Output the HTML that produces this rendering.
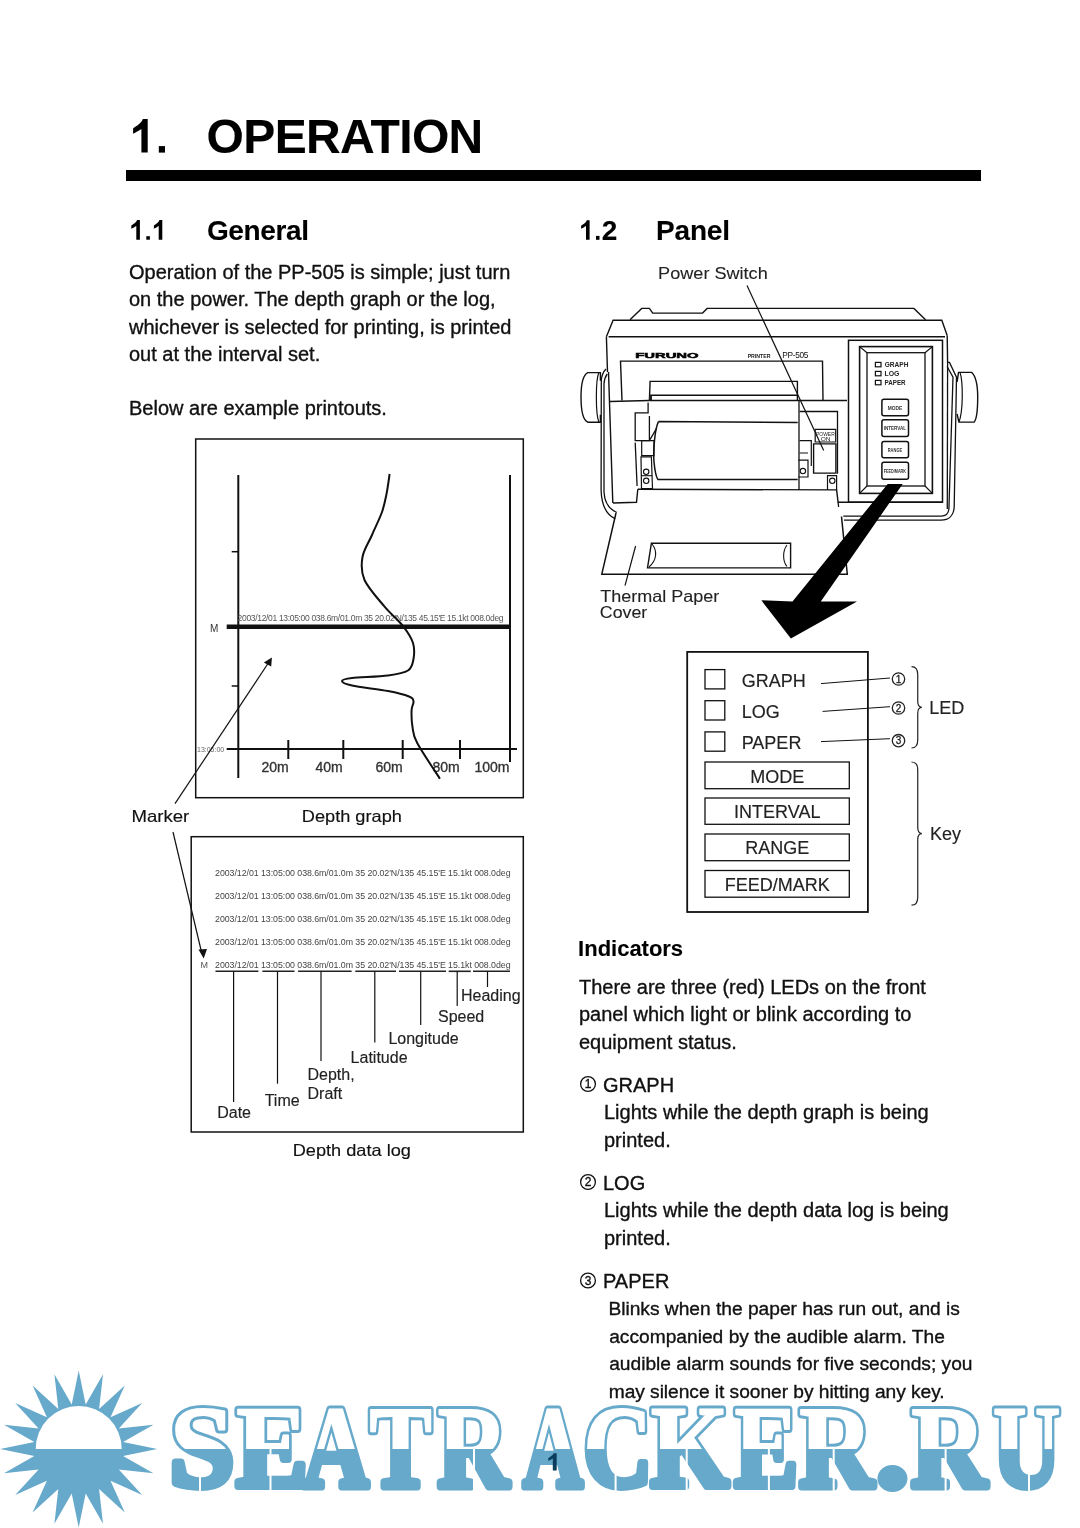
<!DOCTYPE html>
<html><head><meta charset="utf-8"><style>
html,body{margin:0;padding:0;background:#fff;width:1080px;height:1528px;overflow:hidden;}
svg{font-family:"Liberation Sans",sans-serif;}
</style></head><body>
<svg width="1080" height="1528" viewBox="0 0 1080 1528" style="position:absolute;left:0;top:0;will-change:transform"><path d="M142.79,119.00 L147.70,119.00 L147.70,152.60 L141.40,152.60 L141.40,129.08 C138.50,131.10 134.76,133.11 133.10,133.78 L133.10,128.41 C136.84,125.72 142.16,122.36 142.79,119.00 Z" fill="#000"/>
<rect x="158.8" y="146.1" width="6.2" height="6.5" fill="#000"/>
<text x="206.58" y="153.3" font-size="48" font-weight="bold" text-anchor="start" fill="#000" stroke="#000" stroke-width="0.1" textLength="276.7" lengthAdjust="spacing" >OPERATION</text>
<rect x="126" y="170" width="855" height="11" fill="#000"/>
<path d="M137.09,220.10 L139.90,220.10 L139.90,239.70 L136.30,239.70 L136.30,225.98 C134.55,227.16 132.30,228.33 131.30,228.72 L131.30,225.59 C133.55,224.02 136.73,222.06 137.09,220.10 Z" fill="#000"/>
<rect x="146.3" y="236.2" width="3.6" height="3.5" fill="#000"/>
<path d="M159.49,220.10 L162.30,220.10 L162.30,239.70 L158.70,239.70 L158.70,225.98 C157.02,227.16 154.86,228.33 153.90,228.72 L153.90,225.59 C156.06,224.02 159.13,222.06 159.49,220.10 Z" fill="#000"/>
<text x="206.88" y="240" font-size="28" font-weight="bold" text-anchor="start" fill="#000" stroke="#000" stroke-width="0.1" textLength="102.06" lengthAdjust="spacing" >General</text>
<path d="M586.79,220.20 L589.60,220.20 L589.60,239.80 L586.00,239.80 L586.00,226.08 C584.28,227.26 582.08,228.43 581.10,228.82 L581.10,225.69 C583.31,224.12 586.43,222.16 586.79,220.20 Z" fill="#000"/>
<rect x="596" y="235.9" width="3.5" height="3.9" fill="#000"/>
<text x="601.82" y="240" font-size="28" font-weight="bold" text-anchor="start" fill="#000" stroke="#000" stroke-width="0.1" textLength="15.06" lengthAdjust="spacing" >2</text>
<text x="656.11" y="240" font-size="28" font-weight="bold" text-anchor="start" fill="#000" stroke="#000" stroke-width="0.1" textLength="73.87" lengthAdjust="spacing" >Panel</text>
<text x="129" y="279.1" font-size="20" font-weight="normal" text-anchor="start" fill="#111" stroke="#111" stroke-width="0.35" >Operation of the PP-505 is simple; just turn</text>
<text x="129" y="306.4" font-size="20" font-weight="normal" text-anchor="start" fill="#111" stroke="#111" stroke-width="0.35" >on the power. The depth graph or the log,</text>
<text x="129" y="333.7" font-size="20" font-weight="normal" text-anchor="start" fill="#111" stroke="#111" stroke-width="0.35" >whichever is selected for printing, is printed</text>
<text x="129" y="361.0" font-size="20" font-weight="normal" text-anchor="start" fill="#111" stroke="#111" stroke-width="0.35" >out at the interval set.</text>
<text x="129" y="415.3" font-size="20" font-weight="normal" text-anchor="start" fill="#111" stroke="#111" stroke-width="0.35" >Below are example printouts.</text>
<text x="578.12" y="955.9" font-size="22" font-weight="bold" text-anchor="start" fill="#000" stroke="#000" stroke-width="0.1" textLength="105.0" lengthAdjust="spacing" >Indicators</text>
<text x="579" y="994.0" font-size="20" font-weight="normal" text-anchor="start" fill="#111" stroke="#111" stroke-width="0.35" >There are three (red) LEDs on the front</text>
<text x="579" y="1021.4" font-size="20" font-weight="normal" text-anchor="start" fill="#111" stroke="#111" stroke-width="0.35" >panel which light or blink according to</text>
<text x="579" y="1048.8" font-size="20" font-weight="normal" text-anchor="start" fill="#111" stroke="#111" stroke-width="0.35" >equipment status.</text>
<circle cx="588" cy="1084" r="7.4" fill="none" stroke="#111" stroke-width="1.3"/>
<text x="588" y="1088.32" font-size="12" font-weight="normal" text-anchor="middle" fill="#111" stroke="#111" stroke-width="0.35" stroke-width="0.3" stroke="#111">1</text>
<text x="603" y="1091.7" font-size="20" font-weight="normal" text-anchor="start" fill="#111" stroke="#111" stroke-width="0.35" >GRAPH</text>
<text x="604" y="1119.1" font-size="20" font-weight="normal" text-anchor="start" fill="#111" stroke="#111" stroke-width="0.35" >Lights while the depth graph is being</text>
<text x="604" y="1146.7" font-size="20" font-weight="normal" text-anchor="start" fill="#111" stroke="#111" stroke-width="0.35" >printed.</text>
<circle cx="588" cy="1182" r="7.4" fill="none" stroke="#111" stroke-width="1.3"/>
<text x="588" y="1186.32" font-size="12" font-weight="normal" text-anchor="middle" fill="#111" stroke="#111" stroke-width="0.35" stroke-width="0.3" stroke="#111">2</text>
<text x="603" y="1189.6" font-size="20" font-weight="normal" text-anchor="start" fill="#111" stroke="#111" stroke-width="0.35" >LOG</text>
<text x="604" y="1216.9" font-size="20" font-weight="normal" text-anchor="start" fill="#111" stroke="#111" stroke-width="0.35" >Lights while the depth data log is being</text>
<text x="604" y="1244.6" font-size="20" font-weight="normal" text-anchor="start" fill="#111" stroke="#111" stroke-width="0.35" >printed.</text>
<circle cx="588" cy="1280.5" r="7.4" fill="none" stroke="#111" stroke-width="1.3"/>
<text x="588" y="1284.82" font-size="12" font-weight="normal" text-anchor="middle" fill="#111" stroke="#111" stroke-width="0.35" stroke-width="0.3" stroke="#111">3</text>
<text x="603" y="1288.3" font-size="20" font-weight="normal" text-anchor="start" fill="#111" stroke="#111" stroke-width="0.35" >PAPER</text>
<text x="608.42" y="1315.3" font-size="19.2" font-weight="normal" text-anchor="start" fill="#111" stroke="#111" stroke-width="0.35" textLength="351.46" lengthAdjust="spacing" >Blinks when the paper has run out, and is</text>
<text x="609.18" y="1343.2" font-size="19.2" font-weight="normal" text-anchor="start" fill="#111" stroke="#111" stroke-width="0.35" textLength="335.64" lengthAdjust="spacing" >accompanied by the audible alarm. The</text>
<text x="609.18" y="1369.9" font-size="19.2" font-weight="normal" text-anchor="start" fill="#111" stroke="#111" stroke-width="0.35" textLength="363.28" lengthAdjust="spacing" >audible alarm sounds for five seconds; you</text>
<text x="608.7" y="1397.5" font-size="19.2" font-weight="normal" text-anchor="start" fill="#111" stroke="#111" stroke-width="0.35" textLength="336.01" lengthAdjust="spacing" >may silence it sooner by hitting any key.</text>
<rect x="195.7" y="439" width="327.6" height="358.7" fill="none" stroke="#111" stroke-width="1.5" rx="0"/>
<line x1="238.3" y1="475" x2="238.3" y2="778" stroke="#111" stroke-width="2"/>
<line x1="510" y1="475" x2="510" y2="762" stroke="#111" stroke-width="2"/>
<line x1="231.7" y1="551.7" x2="238.3" y2="551.7" stroke="#111" stroke-width="1.5"/>
<line x1="231.7" y1="686" x2="238.3" y2="686" stroke="#111" stroke-width="1.5"/>
<line x1="226.7" y1="626.7" x2="510" y2="626.7" stroke="#111" stroke-width="4.5"/>
<text x="210" y="632" font-size="10" font-weight="normal" text-anchor="start" fill="#333" >M</text>
<text x="237.58" y="620.5" font-size="8.5" font-weight="normal" text-anchor="start" fill="#555" textLength="265.96" lengthAdjust="spacing" >2003/12/01 13:05:00 038.6m/01.0m 35 20.02'N/135 45.15'E 15.1kt 008.0deg</text>
<line x1="226.7" y1="749" x2="517" y2="749" stroke="#111" stroke-width="2"/>
<line x1="288.3" y1="740" x2="288.3" y2="759" stroke="#111" stroke-width="2"/>
<line x1="343.3" y1="740" x2="343.3" y2="759" stroke="#111" stroke-width="2"/>
<line x1="402.7" y1="740" x2="402.7" y2="759" stroke="#111" stroke-width="2"/>
<line x1="460" y1="740" x2="460" y2="759" stroke="#111" stroke-width="2"/>
<text x="275" y="772" font-size="14" font-weight="normal" text-anchor="middle" fill="#333" stroke="#333" stroke-width="0.35" >20m</text>
<text x="329" y="772" font-size="14" font-weight="normal" text-anchor="middle" fill="#333" stroke="#333" stroke-width="0.35" >40m</text>
<text x="389" y="772" font-size="14" font-weight="normal" text-anchor="middle" fill="#333" stroke="#333" stroke-width="0.35" >60m</text>
<text x="446" y="772" font-size="14" font-weight="normal" text-anchor="middle" fill="#333" stroke="#333" stroke-width="0.35" >80m</text>
<text x="492" y="772" font-size="14" font-weight="normal" text-anchor="middle" fill="#333" stroke="#333" stroke-width="0.35" >100m</text>
<text x="197" y="752" font-size="7" font-weight="normal" text-anchor="start" fill="#666" >13:05:00</text>
<path d="M389.6,474 C389.1,477.3 387.8,487.7 386.5,494 C385.2,500.3 384.4,505.2 382,512 C379.6,518.8 375.2,527.5 372,535 C368.8,542.5 363.8,549.5 362.5,557 C361.2,564.5 360.8,571.7 364.5,580 C368.2,588.3 378.4,599.2 384.8,606.9 C391.2,614.6 398.5,620.3 403.2,626.3 C407.9,632.3 411.3,637.5 413,643 C414.7,648.5 414.3,654.4 413.5,659 C412.7,663.6 412.2,667.8 408,670.5 C403.8,673.2 397.3,674.2 388,675.5 C378.7,676.8 359.7,677.1 352,678 C344.3,678.9 342.0,679.8 342,681 C342.0,682.2 344.3,683.8 352,685.5 C359.7,687.2 378.5,689.2 388,691 C397.5,692.8 404.8,694.8 409,696.5 C413.2,698.2 413.1,699.2 413.5,701.5 C413.9,703.8 411.8,705.8 411.6,710 C411.4,714.2 411.6,721.5 412.5,727 C413.4,732.5 412.6,734.4 417.2,743 C421.8,751.6 436.1,772.8 439.9,778.7" fill="none" stroke="#111" stroke-width="2" />
<line x1="175" y1="803.7" x2="268" y2="663.5" stroke="#111" stroke-width="1.2"/>
<polygon points="271.9,657.6 263.8,662.6 271.2,666.4" fill="#111"/>
<text x="301.8" y="821.7" font-size="16.5" font-weight="normal" text-anchor="start" fill="#111" stroke="#111" stroke-width="0.15" textLength="100.07" lengthAdjust="spacingAndGlyphs" >Depth graph</text>
<text x="131.47" y="821.7" font-size="16.5" font-weight="normal" text-anchor="start" fill="#111" stroke="#111" stroke-width="0.15" textLength="57.84" lengthAdjust="spacingAndGlyphs" >Marker</text>
<rect x="191.2" y="836.7" width="332.1" height="295.3" fill="none" stroke="#111" stroke-width="1.5" rx="0"/>
<text x="215.06" y="875.7" font-size="8.8" font-weight="normal" text-anchor="start" fill="#444" textLength="295.5" lengthAdjust="spacing" >2003/12/01 13:05:00 038.6m/01.0m 35 20.02'N/135 45.15'E 15.1kt 008.0deg</text>
<text x="215.06" y="899.4" font-size="8.8" font-weight="normal" text-anchor="start" fill="#444" textLength="295.5" lengthAdjust="spacing" >2003/12/01 13:05:00 038.6m/01.0m 35 20.02'N/135 45.15'E 15.1kt 008.0deg</text>
<text x="215.06" y="922.2" font-size="8.8" font-weight="normal" text-anchor="start" fill="#444" textLength="295.5" lengthAdjust="spacing" >2003/12/01 13:05:00 038.6m/01.0m 35 20.02'N/135 45.15'E 15.1kt 008.0deg</text>
<text x="215.06" y="945" font-size="8.8" font-weight="normal" text-anchor="start" fill="#444" textLength="295.5" lengthAdjust="spacing" >2003/12/01 13:05:00 038.6m/01.0m 35 20.02'N/135 45.15'E 15.1kt 008.0deg</text>
<text x="215.06" y="968.3" font-size="8.8" font-weight="normal" text-anchor="start" fill="#444" textLength="295.5" lengthAdjust="spacing" >2003/12/01 13:05:00 038.6m/01.0m 35 20.02'N/135 45.15'E 15.1kt 008.0deg</text>
<text x="200.5" y="968" font-size="9" font-weight="normal" text-anchor="start" fill="#555" >M</text>
<line x1="215.5" y1="971.3" x2="258.4" y2="971.3" stroke="#222" stroke-width="1.6"/>
<line x1="262.4" y1="971.3" x2="294.5" y2="971.3" stroke="#222" stroke-width="1.6"/>
<line x1="298.1" y1="971.3" x2="351.6" y2="971.3" stroke="#222" stroke-width="1.6"/>
<line x1="355.3" y1="971.3" x2="396" y2="971.3" stroke="#222" stroke-width="1.6"/>
<line x1="399" y1="971.3" x2="446" y2="971.3" stroke="#222" stroke-width="1.6"/>
<line x1="448.7" y1="971.3" x2="470.8" y2="971.3" stroke="#222" stroke-width="1.6"/>
<line x1="473" y1="971.3" x2="510" y2="971.3" stroke="#222" stroke-width="1.6"/>
<line x1="233.6" y1="971.3" x2="233.6" y2="1102" stroke="#111" stroke-width="1.2"/>
<line x1="277.5" y1="971.3" x2="277.5" y2="1083.7" stroke="#111" stroke-width="1.2"/>
<line x1="321" y1="971.3" x2="321" y2="1061" stroke="#111" stroke-width="1.2"/>
<line x1="374.8" y1="971.3" x2="374.8" y2="1042.5" stroke="#111" stroke-width="1.2"/>
<line x1="420.7" y1="971.3" x2="420.7" y2="1025" stroke="#111" stroke-width="1.2"/>
<line x1="457.2" y1="971.3" x2="457.2" y2="1006" stroke="#111" stroke-width="1.2"/>
<line x1="487.5" y1="971.3" x2="487.5" y2="987" stroke="#111" stroke-width="1.2"/>
<text x="217.2" y="1117.5" font-size="16" font-weight="normal" text-anchor="start" fill="#222" stroke="#222" stroke-width="0.15" >Date</text>
<text x="264.7" y="1105.9" font-size="16" font-weight="normal" text-anchor="start" fill="#222" stroke="#222" stroke-width="0.15" >Time</text>
<text x="307.5" y="1079.8" font-size="16" font-weight="normal" text-anchor="start" fill="#222" stroke="#222" stroke-width="0.15" >Depth,</text>
<text x="307.5" y="1099.3" font-size="16" font-weight="normal" text-anchor="start" fill="#222" stroke="#222" stroke-width="0.15" >Draft</text>
<text x="350.6" y="1063" font-size="16" font-weight="normal" text-anchor="start" fill="#222" stroke="#222" stroke-width="0.15" >Latitude</text>
<text x="388.4" y="1043.6" font-size="16" font-weight="normal" text-anchor="start" fill="#222" stroke="#222" stroke-width="0.15" >Longitude</text>
<text x="438" y="1022" font-size="16" font-weight="normal" text-anchor="start" fill="#222" stroke="#222" stroke-width="0.15" >Speed</text>
<text x="461" y="1000.9" font-size="16" font-weight="normal" text-anchor="start" fill="#222" stroke="#222" stroke-width="0.15" >Heading</text>
<line x1="173" y1="832" x2="201.5" y2="952" stroke="#111" stroke-width="1.2"/>
<polygon points="203.7,958.4 198.5,949.5 207,949" fill="#111"/>
<text x="292.7" y="1156.4" font-size="16.5" font-weight="normal" text-anchor="start" fill="#111" stroke="#111" stroke-width="0.15" textLength="118.24" lengthAdjust="spacingAndGlyphs" >Depth data log</text>
<rect x="687.2" y="651.9" width="180.7" height="260.1" fill="none" stroke="#111" stroke-width="1.8" rx="0"/>
<rect x="705" y="669.6" width="19.8" height="19.3" fill="none" stroke="#111" stroke-width="1.3" rx="0"/>
<rect x="705" y="700.7" width="19.8" height="19.3" fill="none" stroke="#111" stroke-width="1.3" rx="0"/>
<rect x="705" y="731.9" width="19.8" height="19.3" fill="none" stroke="#111" stroke-width="1.3" rx="0"/>
<text x="741.7" y="686.8" font-size="18" font-weight="normal" text-anchor="start" fill="#222" stroke="#222" stroke-width="0.15" >GRAPH</text>
<text x="741.7" y="717.6" font-size="18" font-weight="normal" text-anchor="start" fill="#222" stroke="#222" stroke-width="0.15" >LOG</text>
<text x="741.7" y="748.7" font-size="18" font-weight="normal" text-anchor="start" fill="#222" stroke="#222" stroke-width="0.15" >PAPER</text>
<line x1="821" y1="683.6" x2="890" y2="678" stroke="#111" stroke-width="1"/>
<line x1="822.6" y1="711.4" x2="890" y2="706.7" stroke="#111" stroke-width="1"/>
<line x1="821" y1="741.6" x2="890" y2="738.7" stroke="#111" stroke-width="1"/>
<circle cx="898.5" cy="679" r="6.2" fill="none" stroke="#222" stroke-width="1.3"/>
<text x="898.5" y="682.6" font-size="10" font-weight="normal" text-anchor="middle" fill="#222" stroke-width="0.3" stroke="#222">1</text>
<circle cx="898.5" cy="708" r="6.2" fill="none" stroke="#222" stroke-width="1.3"/>
<text x="898.5" y="711.6" font-size="10" font-weight="normal" text-anchor="middle" fill="#222" stroke-width="0.3" stroke="#222">2</text>
<circle cx="898.5" cy="740.7" r="6.2" fill="none" stroke="#222" stroke-width="1.3"/>
<text x="898.5" y="744.3000000000001" font-size="10" font-weight="normal" text-anchor="middle" fill="#222" stroke-width="0.3" stroke="#222">3</text>
<path d="M911.5,666.7 Q917.74,666.7 917.74,674.7 L917.74,701.35 Q917.74,707.35 921.9,707.35 Q917.74,707.35 917.74,713.35 L917.74,740 Q917.74,748 911.5,748" fill="none" stroke="#222" stroke-width="1.2" />
<text x="929.3" y="714" font-size="18" font-weight="normal" text-anchor="start" fill="#222" stroke="#222" stroke-width="0.15" >LED</text>
<rect x="705" y="762" width="144.3" height="26.700000000000045" fill="none" stroke="#111" stroke-width="1.3" rx="0"/>
<text x="777.3" y="783" font-size="18" font-weight="normal" text-anchor="middle" fill="#222" stroke="#222" stroke-width="0.15" >MODE</text>
<rect x="705" y="798" width="144.3" height="26.299999999999955" fill="none" stroke="#111" stroke-width="1.3" rx="0"/>
<text x="777.3" y="817.8" font-size="18" font-weight="normal" text-anchor="middle" fill="#222" stroke="#222" stroke-width="0.15" >INTERVAL</text>
<rect x="705" y="834" width="144.3" height="26.700000000000045" fill="none" stroke="#111" stroke-width="1.3" rx="0"/>
<text x="777.3" y="854" font-size="18" font-weight="normal" text-anchor="middle" fill="#222" stroke="#222" stroke-width="0.15" >RANGE</text>
<rect x="705" y="870.5" width="144.3" height="26.700000000000045" fill="none" stroke="#111" stroke-width="1.3" rx="0"/>
<text x="777.3" y="891.3" font-size="18" font-weight="normal" text-anchor="middle" fill="#222" stroke="#222" stroke-width="0.15" >FEED/MARK</text>
<path d="M911.5,762 Q917.74,762 917.74,770 L917.74,827.6 Q917.74,833.6 921.9,833.6 Q917.74,833.6 917.74,839.6 L917.74,897.2 Q917.74,905.2 911.5,905.2" fill="none" stroke="#222" stroke-width="1.2" />
<text x="930" y="840" font-size="18" font-weight="normal" text-anchor="start" fill="#222" stroke="#222" stroke-width="0.15" >Key</text>
<path d="M630,319.8 L641.7,308.4 L649.4,308.4 L652.7,313.1 L702.6,313.1 L707.1,308.4 L913.9,308.4 L925.6,319.8" fill="none" stroke="#111" stroke-width="1.4" />
<path d="M606.4,336.7 L613.1,320.3 L941.8,320.3 L947.2,335.5" fill="none" stroke="#111" stroke-width="1.4" />
<line x1="608.6" y1="336.7" x2="945" y2="336.7" stroke="#111" stroke-width="1.4"/>
<path d="M606.4,336.7 L607.5,372 M608.5,372 L612.8,503" fill="none" stroke="#111" stroke-width="1.4" />
<path d="M947.2,335.5 L947.6,362" fill="none" stroke="#111" stroke-width="1.4" />
<path d="M606,369 C603,372 601.5,376 601.3,381 L601.1,490 C601.5,506 607,515 615.2,518.8" fill="none" stroke="#111" stroke-width="1.3" />
<path d="M607.2,374 C605,377 604.2,380 604,384 L604,492 C604.5,503 609,509 616.8,512.5" fill="none" stroke="#111" stroke-width="1.3" />
<path d="M600.4,380.7 L600.4,372.6 L587.8,372.6 C583,375 581,386 581,397 C581,410 583,420 587.8,422.2 L600.4,422.2 L600.4,414.8" fill="none" stroke="#111" stroke-width="1.4" />
<path d="M598.9,372.6 C595.5,380 595.5,414 598.9,422.2" fill="none" stroke="#111" stroke-width="1.2" />
<path d="M947.1,362.4 L949.5,362.4 L956.5,377.1 L954.2,506.7 C953.8,515 949,520.2 941,520.2 L844,520.2" fill="none" stroke="#111" stroke-width="1.3" />
<path d="M947.1,366.5 L953,377.1 L948.9,509 C948.5,513.5 946,516.1 941,516.1 L843.3,516.1" fill="none" stroke="#111" stroke-width="1.3" />
<path d="M957.1,381.8 L958.5,372.4 L971.8,372.4 C975.5,376 977.7,386 977.7,397.1 C977.7,410 976,420 974.2,422.1 L958.9,422.1 L957.1,414" fill="none" stroke="#111" stroke-width="1.4" />
<path d="M960,372.4 C963.2,382 963.2,412 958.9,422.1" fill="none" stroke="#111" stroke-width="1.2" />
<path d="M947.6,362 L947.3,509" fill="none" stroke="#111" stroke-width="1.3" />
<text x="635.2" y="357.9" font-size="7.6" font-weight="bold" text-anchor="start" fill="#000" textLength="63.43" lengthAdjust="spacingAndGlyphs" stroke="#000" stroke-width="0.5">FURUNO</text>
<text x="747.65" y="357.8" font-size="5.2" font-weight="bold" text-anchor="start" fill="#222" textLength="22.86" lengthAdjust="spacingAndGlyphs" >PRINTER</text>
<text x="782.32" y="357.8" font-size="8.3" font-weight="normal" text-anchor="start" fill="#111" textLength="26.02" lengthAdjust="spacing" >PP-505</text>
<path d="M622,400.5 L620.5,361.1 L822.5,361.1 L823,400.5" fill="none" stroke="#111" stroke-width="1.4" />
<path d="M649.4,400.5 L650.1,381.4 L797.4,381.4 L797.4,400.5" fill="none" stroke="#111" stroke-width="1.4" />
<line x1="649.4" y1="395.3" x2="797.4" y2="395.3" stroke="#111" stroke-width="1.4"/>
<rect x="649.4" y="395.3" width="2.6" height="5.2" fill="#222"/>
<line x1="610" y1="401.5" x2="649.4" y2="400.5" stroke="#111" stroke-width="1.4"/>
<line x1="649.4" y1="400.5" x2="847" y2="400.5" stroke="#111" stroke-width="1.4"/>
<path d="M648.1,402.4 L648.1,412.8 L635.2,412.8 L635.2,440.6 L649.4,440.6 L656.6,428.3 M649.4,416 L649.4,440.6" fill="none" stroke="#111" stroke-width="1.3" />
<path d="M635.2,442.6 L637.1,486" fill="none" stroke="#111" stroke-width="1.3" />
<path d="M658.5,421.6 L797.7,422.5 M658.5,421.6 C655,428 653,450 654,462 C655,472 656,477 657.9,479.5 L797.7,479.5" fill="none" stroke="#111" stroke-width="1.5" />
<path d="M641.7,440.6 L654,440.6 L654,455.6 L641.7,455.6 Z" fill="none" stroke="#111" stroke-width="1.2" />
<path d="M641,456.9 L651.4,456.9 L652.5,488.6 L641.5,488.6 Z" fill="none" stroke="#111" stroke-width="1.2" />
<circle cx="646.2" cy="471.8" r="2.7" fill="none" stroke="#111" stroke-width="1.1"/>
<circle cx="646.2" cy="480.8" r="2.7" fill="none" stroke="#111" stroke-width="1.1"/>
<line x1="641.5" y1="475.7" x2="652.2" y2="475.7" stroke="#111" stroke-width="1.1"/>
<line x1="799" y1="400.5" x2="799" y2="489.9" stroke="#111" stroke-width="1.3"/>
<path d="M799.6,411.5 L837.5,411.5 L837.5,473.7" fill="none" stroke="#111" stroke-width="1.3" />
<path d="M815.2,429.4 L835.7,429.4 L835.7,442 L815.2,442 Z" fill="none" stroke="#111" stroke-width="1.2" />
<text x="816.09" y="436.3" font-size="5.4" font-weight="normal" text-anchor="start" fill="#222" textLength="18.64" lengthAdjust="spacingAndGlyphs" >POWER</text>
<text x="820.69" y="441.3" font-size="5.4" font-weight="normal" text-anchor="start" fill="#222" textLength="9.85" lengthAdjust="spacingAndGlyphs" >ON</text>
<path d="M813.6,443.9 L835.9,443.9 L835.9,473.1 L813.6,473.1 Z" fill="none" stroke="#111" stroke-width="1.4" />
<path d="M799.6,440.6 L811.3,440.6 L811.3,465.9 M799.6,453 L808,453" fill="none" stroke="#111" stroke-width="1.2" />
<path d="M798.3,460.1 L808,460.1 L808,477 L798.3,477" fill="none" stroke="#111" stroke-width="1.2" />
<circle cx="802.9" cy="471.1" r="2.7" fill="none" stroke="#111" stroke-width="1.1"/>
<path d="M827.5,489.9 L827.5,475.7 L836.6,475.7 L836.6,489.9" fill="none" stroke="#111" stroke-width="1.2" />
<circle cx="832.3" cy="480.8" r="2.7" fill="none" stroke="#111" stroke-width="1.1"/>
<path d="M637.8,489.3 L836.6,489.9 L838.1,502.2 L942.6,502.2" fill="none" stroke="#111" stroke-width="1.4" />
<path d="M613,503 L636.5,502.2 L637.8,489.3" fill="none" stroke="#111" stroke-width="1.4" />
<rect x="848.5" y="340.3" width="94" height="161.9" fill="none" stroke="#111" stroke-width="1.5" rx="0"/>
<rect x="859.6" y="346.6" width="72.8" height="146.8" fill="none" stroke="#111" stroke-width="1.6" rx="0"/>
<rect x="867" y="352.7" width="58" height="133.3" fill="none" stroke="#111" stroke-width="1.3" rx="0"/>
<path d="M859.6,346.6 L867,352.7 M932.4,346.6 L925,352.7 M859.6,493.4 L867,486 M932.4,493.4 L925,486" fill="none" stroke="#111" stroke-width="1.2" />
<rect x="875.4" y="362.4" width="5.6" height="4.4" fill="none" stroke="#111" stroke-width="1.2" rx="0"/>
<rect x="875.4" y="371.4" width="5.6" height="4.4" fill="none" stroke="#111" stroke-width="1.2" rx="0"/>
<rect x="875.4" y="380.4" width="5.6" height="4.4" fill="none" stroke="#111" stroke-width="1.2" rx="0"/>
<text x="884.74" y="367.2" font-size="7" font-weight="bold" text-anchor="start" fill="#222" textLength="23.7" lengthAdjust="spacingAndGlyphs" >GRAPH</text>
<text x="884.54" y="376" font-size="7" font-weight="bold" text-anchor="start" fill="#222" textLength="14.91" lengthAdjust="spacingAndGlyphs" >LOG</text>
<text x="884.58" y="385" font-size="7" font-weight="bold" text-anchor="start" fill="#222" textLength="21.05" lengthAdjust="spacingAndGlyphs" >PAPER</text>
<rect x="881.9" y="399.2" width="26.6" height="16.600000000000023" fill="none" stroke="#111" stroke-width="1.5" rx="2"/>
<text x="887.67" y="409.7" font-size="5.6" font-weight="bold" text-anchor="start" fill="#333" textLength="14.52" lengthAdjust="spacingAndGlyphs" >MODE</text>
<rect x="881.9" y="419.7" width="26.6" height="16.69999999999999" fill="none" stroke="#111" stroke-width="1.5" rx="2"/>
<text x="883.69" y="430.24999999999994" font-size="5.6" font-weight="bold" text-anchor="start" fill="#333" textLength="22.45" lengthAdjust="spacingAndGlyphs" >INTERVAL</text>
<rect x="881.9" y="441.5" width="26.6" height="16.30000000000001" fill="none" stroke="#111" stroke-width="1.5" rx="2"/>
<text x="887.73" y="451.84999999999997" font-size="5.6" font-weight="bold" text-anchor="start" fill="#333" textLength="14.43" lengthAdjust="spacingAndGlyphs" >RANGE</text>
<rect x="881.9" y="462.2" width="26.6" height="17.100000000000023" fill="none" stroke="#111" stroke-width="1.5" rx="2"/>
<text x="883.75" y="472.95" font-size="5.6" font-weight="bold" text-anchor="start" fill="#333" textLength="22.29" lengthAdjust="spacingAndGlyphs" >FEED/MARK</text>
<path d="M616,513 L601.8,574.2 L847.3,574.2 L841.5,516.5" fill="none" stroke="#111" stroke-width="1.5" />
<path d="M838.1,502.2 L838.6,507" fill="none" stroke="#111" stroke-width="1.3" />
<path d="M647.5,567.9 L651.4,543.2 L790.6,543.2 L790.6,567.9 Z" fill="none" stroke="#111" stroke-width="1.4" />
<path d="M652,544 C657.5,551 657,560 649,567" fill="none" stroke="#111" stroke-width="1.1" />
<path d="M787,545 C782.5,551 782.5,561 787,566.5" fill="none" stroke="#111" stroke-width="1.1" />
<text x="658.11" y="278.6" font-size="16.5" font-weight="normal" text-anchor="start" fill="#222" stroke="#222" stroke-width="0.1" textLength="109.63" lengthAdjust="spacingAndGlyphs" >Power Switch</text>
<line x1="747" y1="285.5" x2="823.7" y2="450.4" stroke="#111" stroke-width="1.2"/>
<text x="600.3" y="602.2" font-size="16.5" font-weight="normal" text-anchor="start" fill="#222" stroke="#222" stroke-width="0.1" textLength="119.0" lengthAdjust="spacingAndGlyphs" >Thermal Paper</text>
<text x="599.81" y="618.3" font-size="16.5" font-weight="normal" text-anchor="start" fill="#222" stroke="#222" stroke-width="0.1" textLength="47.46" lengthAdjust="spacingAndGlyphs" >Cover</text>
<line x1="635.6" y1="546" x2="625" y2="585.7" stroke="#111" stroke-width="1.2"/>
<polygon points="887.7,483.9 902.7,483.9 820.8,601.4 857,601.4 790.9,638.4 761.3,600.3 792.5,601.4" fill="#000"/>
<polygon points="157.2,1449.0 123.1,1442.0 153.4,1424.7 118.8,1428.6 142.2,1402.9 110.5,1417.2 124.8,1385.5 99.1,1408.9 103.0,1374.3 85.7,1404.6 78.7,1370.5 71.7,1404.6 54.4,1374.3 58.3,1408.9 32.6,1385.5 46.9,1417.2 15.2,1402.9 38.6,1428.6 4.0,1424.7 34.3,1442.0 0.2,1449.0 34.3,1456.0 4.0,1473.3 38.6,1469.4 15.2,1495.1 46.9,1480.8 32.6,1512.5 58.3,1489.1 54.4,1523.7 71.7,1493.4 78.7,1527.5 85.7,1493.4 103.0,1523.7 99.1,1489.1 124.8,1512.5 110.5,1480.8 142.2,1495.1 118.8,1469.4 153.4,1473.3 123.1,1456.0" fill="#66a9cb"/>
<path d="M35.7,1449 A43,43 0 0 1 121.7,1449 Z" fill="#fff"/>
<defs><clipPath id="ctop"><rect x="0" y="1300" width="1080" height="149"/></clipPath><clipPath id="cbot"><rect x="0" y="1449" width="1080" height="79"/></clipPath></defs>
<g clip-path="url(#ctop)" style="font-family:'Liberation Serif',serif;font-weight:bold" fill="#66a9cb" stroke="#66a9cb" stroke-width="8" stroke-linejoin="round"><text transform="translate(169.43,1486.00) scale(1.0039,1)" x="0" y="0" font-size="116.03">S</text><text transform="translate(236.18,1486.00) scale(0.9208,1)" x="0" y="0" font-size="116.03">E</text><text transform="translate(303.09,1486.00) scale(0.7824,1)" x="0" y="0" font-size="116.03">A</text><text transform="translate(369.41,1486.00) scale(0.8049,1)" x="0" y="0" font-size="116.03">T</text><text transform="translate(437.84,1486.00) scale(0.8425,1)" x="0" y="0" font-size="116.03">R</text><text transform="translate(523.18,1486.00) scale(0.7090,1)" x="0" y="0" font-size="116.03">A</text><text transform="translate(583.32,1486.00) scale(0.8229,1)" x="0" y="0" font-size="116.03">C</text><text transform="translate(650.80,1486.00) scale(0.8641,1)" x="0" y="0" font-size="116.03">K</text><text transform="translate(734.38,1486.00) scale(0.8201,1)" x="0" y="0" font-size="116.03">E</text><text transform="translate(799.26,1486.00) scale(0.8812,1)" x="0" y="0" font-size="116.03">R</text><text transform="translate(876.30,1486.00) scale(1.1172,1)" x="0" y="0" font-size="116.03">.</text><text transform="translate(911.24,1486.00) scale(0.8932,1)" x="0" y="0" font-size="116.03">R</text><text transform="translate(992.66,1486.00) scale(0.8080,1)" x="0" y="0" font-size="116.03">U</text></g>
<g clip-path="url(#ctop)" style="font-family:'Liberation Serif',serif;font-weight:bold" fill="#fff" stroke="#fff" stroke-width="2" stroke-linejoin="round"><text transform="translate(169.43,1486.00) scale(1.0039,1)" x="0" y="0" font-size="116.03">S</text><text transform="translate(236.18,1486.00) scale(0.9208,1)" x="0" y="0" font-size="116.03">E</text><text transform="translate(303.09,1486.00) scale(0.7824,1)" x="0" y="0" font-size="116.03">A</text><text transform="translate(369.41,1486.00) scale(0.8049,1)" x="0" y="0" font-size="116.03">T</text><text transform="translate(437.84,1486.00) scale(0.8425,1)" x="0" y="0" font-size="116.03">R</text><text transform="translate(523.18,1486.00) scale(0.7090,1)" x="0" y="0" font-size="116.03">A</text><text transform="translate(583.32,1486.00) scale(0.8229,1)" x="0" y="0" font-size="116.03">C</text><text transform="translate(650.80,1486.00) scale(0.8641,1)" x="0" y="0" font-size="116.03">K</text><text transform="translate(734.38,1486.00) scale(0.8201,1)" x="0" y="0" font-size="116.03">E</text><text transform="translate(799.26,1486.00) scale(0.8812,1)" x="0" y="0" font-size="116.03">R</text><text transform="translate(876.30,1486.00) scale(1.1172,1)" x="0" y="0" font-size="116.03">.</text><text transform="translate(911.24,1486.00) scale(0.8932,1)" x="0" y="0" font-size="116.03">R</text><text transform="translate(992.66,1486.00) scale(0.8080,1)" x="0" y="0" font-size="116.03">U</text></g>
<g clip-path="url(#cbot)" style="font-family:'Liberation Serif',serif;font-weight:bold" fill="#66a9cb" stroke="#66a9cb" stroke-width="8" stroke-linejoin="round"><text transform="translate(169.43,1486.00) scale(1.0039,1)" x="0" y="0" font-size="116.03">S</text><text transform="translate(236.18,1486.00) scale(0.9208,1)" x="0" y="0" font-size="116.03">E</text><text transform="translate(303.09,1486.00) scale(0.7824,1)" x="0" y="0" font-size="116.03">A</text><text transform="translate(369.41,1486.00) scale(0.8049,1)" x="0" y="0" font-size="116.03">T</text><text transform="translate(437.84,1486.00) scale(0.8425,1)" x="0" y="0" font-size="116.03">R</text><text transform="translate(523.18,1486.00) scale(0.7090,1)" x="0" y="0" font-size="116.03">A</text><text transform="translate(583.32,1486.00) scale(0.8229,1)" x="0" y="0" font-size="116.03">C</text><text transform="translate(650.80,1486.00) scale(0.8641,1)" x="0" y="0" font-size="116.03">K</text><text transform="translate(734.38,1486.00) scale(0.8201,1)" x="0" y="0" font-size="116.03">E</text><text transform="translate(799.26,1486.00) scale(0.8812,1)" x="0" y="0" font-size="116.03">R</text><text transform="translate(876.30,1486.00) scale(1.1172,1)" x="0" y="0" font-size="116.03">.</text><text transform="translate(911.24,1486.00) scale(0.8932,1)" x="0" y="0" font-size="116.03">R</text><text transform="translate(992.66,1486.00) scale(0.8080,1)" x="0" y="0" font-size="116.03">U</text></g>
<rect x="199" y="1476" width="2" height="16" fill="#fff"/>
<rect x="269.5" y="1449" width="2" height="43" fill="#fff"/>
<rect x="473" y="1449" width="2" height="43" fill="#fff"/>
<rect x="614.6" y="1470" width="2" height="22" fill="#fff"/>
<rect x="685.7" y="1449" width="2" height="43" fill="#fff"/>
<rect x="767.9" y="1449" width="2" height="43" fill="#fff"/>
<rect x="832.7" y="1449" width="2" height="43" fill="#fff"/>
<rect x="944.6" y="1449" width="2" height="43" fill="#fff"/>
<rect x="1028" y="1474" width="2" height="18" fill="#fff"/>
<path d="M553.66,1453.30 L556.70,1453.30 L556.70,1470.60 L552.80,1470.60 L552.80,1458.49 C551.22,1459.53 549.20,1460.57 548.30,1460.91 L548.30,1458.14 C550.32,1456.76 553.27,1455.03 553.66,1453.30 Z" fill="#0a3d5e"/></svg>
</body></html>
